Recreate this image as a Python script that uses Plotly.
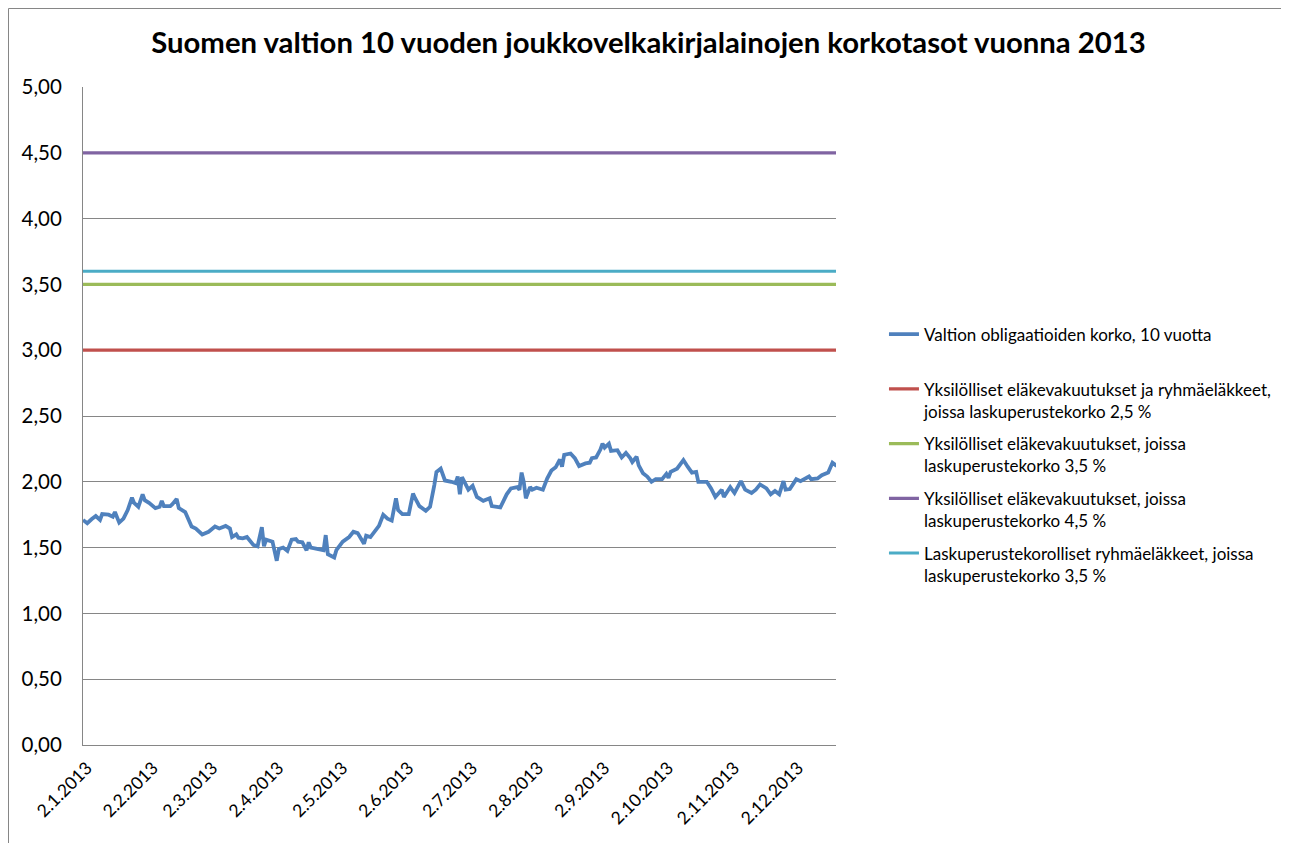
import plotly.graph_objects as go

# ---- data ----
dates = [
    "2013-01-02", "2013-01-04", "2013-01-06", "2013-01-08", "2013-01-10", "2013-01-11",
    "2013-01-14", "2013-01-16", "2013-01-17", "2013-01-19", "2013-01-21", "2013-01-23",
    "2013-01-25", "2013-01-26", "2013-01-28", "2013-01-30", "2013-01-31", "2013-02-02",
    "2013-02-05", "2013-02-07", "2013-02-08", "2013-02-09", "2013-02-12", "2013-02-13",
    "2013-02-15", "2013-02-16", "2013-02-19", "2013-02-22", "2013-02-24", "2013-02-27",
    "2013-03-02", "2013-03-05", "2013-03-07", "2013-03-10", "2013-03-12", "2013-03-13",
    "2013-03-15", "2013-03-16", "2013-03-18", "2013-03-20", "2013-03-23", "2013-03-25",
    "2013-03-27", "2013-03-28", "2013-03-29", "2013-04-01", "2013-04-03", "2013-04-04",
    "2013-04-06", "2013-04-08", "2013-04-10", "2013-04-12", "2013-04-13", "2013-04-15",
    "2013-04-17", "2013-04-18", "2013-04-19", "2013-04-22", "2013-04-25", "2013-04-26",
    "2013-04-27", "2013-04-30", "2013-05-01", "2013-05-04", "2013-05-07", "2013-05-09",
    "2013-05-11", "2013-05-14", "2013-05-15", "2013-05-17", "2013-05-20", "2013-05-21",
    "2013-05-23", "2013-05-25", "2013-05-27", "2013-05-29", "2013-05-30", "2013-06-01",
    "2013-06-04", "2013-06-06", "2013-06-07", "2013-06-09", "2013-06-12", "2013-06-14",
    "2013-06-16", "2013-06-17", "2013-06-19", "2013-06-21", "2013-06-24", "2013-06-26",
    "2013-06-27", "2013-06-28", "2013-06-29", "2013-06-30", "2013-07-02", "2013-07-04",
    "2013-07-06", "2013-07-09", "2013-07-12", "2013-07-13", "2013-07-17", "2013-07-20",
    "2013-07-22", "2013-07-25", "2013-07-26", "2013-07-27", "2013-07-28", "2013-07-29",
    "2013-07-31", "2013-08-01", "2013-08-03", "2013-08-06", "2013-08-08", "2013-08-10",
    "2013-08-12", "2013-08-14", "2013-08-15", "2013-08-16", "2013-08-19", "2013-08-21",
    "2013-08-23", "2013-08-26", "2013-08-28", "2013-08-29", "2013-08-31", "2013-09-02",
    "2013-09-03", "2013-09-04", "2013-09-06", "2013-09-07", "2013-09-10", "2013-09-12",
    "2013-09-14", "2013-09-16", "2013-09-17", "2013-09-19", "2013-09-20", "2013-09-22",
    "2013-09-24", "2013-09-26", "2013-09-28", "2013-10-01", "2013-10-03", "2013-10-04",
    "2013-10-05", "2013-10-08", "2013-10-10", "2013-10-11", "2013-10-13", "2013-10-15",
    "2013-10-17", "2013-10-18", "2013-10-22", "2013-10-24", "2013-10-26", "2013-10-29",
    "2013-10-30", "2013-11-02", "2013-11-04", "2013-11-07", "2013-11-09", "2013-11-12",
    "2013-11-14", "2013-11-16", "2013-11-19", "2013-11-21", "2013-11-23", "2013-11-25",
    "2013-11-27", "2013-11-28", "2013-11-30", "2013-12-03", "2013-12-05", "2013-12-09",
    "2013-12-10", "2013-12-13", "2013-12-15", "2013-12-18", "2013-12-20", "2013-12-22",
]
bond_yield = [
    1.71, 1.685, 1.715, 1.74, 1.71, 1.755,
    1.75, 1.735, 1.77, 1.69, 1.72, 1.785,
    1.88, 1.84, 1.81, 1.905, 1.86, 1.84,
    1.80, 1.81, 1.855, 1.815, 1.815, 1.83,
    1.87, 1.80, 1.77, 1.66, 1.645, 1.60,
    1.62, 1.66, 1.645, 1.665, 1.645, 1.58,
    1.60, 1.575, 1.57, 1.58, 1.52, 1.51,
    1.655, 1.51, 1.56, 1.545, 1.40, 1.49,
    1.50, 1.475, 1.56, 1.565, 1.545, 1.54,
    1.48, 1.54, 1.50, 1.49, 1.48, 1.595,
    1.45, 1.425, 1.48, 1.545, 1.58, 1.62,
    1.61, 1.53, 1.59, 1.58, 1.645, 1.665,
    1.75, 1.72, 1.705, 1.875, 1.785, 1.755,
    1.755, 1.91, 1.875, 1.815, 1.78, 1.81,
    1.975, 2.075, 2.10, 2.01, 2.00, 1.99,
    2.04, 1.905, 2.035, 2.00, 1.94, 1.97,
    1.885, 1.855, 1.875, 1.815, 1.805, 1.905,
    1.95, 1.96, 1.94, 2.07, 2.00, 1.875,
    1.96, 1.94, 1.955, 1.94, 2.025, 2.085,
    2.11, 2.17, 2.115, 2.205, 2.215, 2.18,
    2.12, 2.14, 2.145, 2.18, 2.185, 2.245,
    2.29, 2.26, 2.29, 2.235, 2.24, 2.185,
    2.22, 2.18, 2.15, 2.19, 2.125, 2.065,
    2.04, 2.00, 2.02, 2.02, 2.06, 2.03,
    2.075, 2.10, 2.15, 2.165, 2.115, 2.07,
    2.075, 2.00, 2.00, 1.95, 1.885, 1.94,
    1.885, 1.96, 1.915, 2.005, 1.94, 1.915,
    1.94, 1.98, 1.95, 1.905, 1.93, 1.905,
    2.005, 1.94, 1.945, 2.02, 2.005, 2.04,
    2.02, 2.025, 2.05, 2.07, 2.145, 2.12,
]

level_names = [
    "Yksilölliset eläkevakuutukset ja ryhmäeläkkeet,<br>joissa laskuperustekorko 2,5 %",
    "Yksilölliset eläkevakuutukset, joissa<br>laskuperustekorko 3,5 %",
    "Yksilölliset eläkevakuutukset, joissa<br>laskuperustekorko 4,5 %",
    "Laskuperustekorolliset ryhmäeläkkeet, joissa<br>laskuperustekorko 3,5 %",
]
level_values = [3.0, 3.5, 4.5, 3.6]
level_colors = ["#C0504D", "#9BBB59", "#8064A2", "#4BACC6"]

bond_name = "Valtion obligaatioiden korko, 10 vuotta<br> "
bond_color = "#4F81BD"

tick_dates = ["2013-%02d-02" % m for m in range(1, 13)]
tick_labels = ["2.%d.2013" % m for m in range(1, 13)]
y_ticks = [i * 0.5 for i in range(11)]

FONT = "Lato"
W, H = 1281, 835          # page body has an 8 px margin
ML, MR, MT, MB = 75, 453, 79, 98
PW, PH = W - ML - MR, H - MT - MB

fig = go.Figure()
fig.add_trace(go.Scatter(x=dates, y=bond_yield, mode="lines", name=bond_name,
                         legendgroup="g0",
                         line=dict(color=bond_color, width=3.8)))
for i, (nm, val, col) in enumerate(zip(level_names, level_values, level_colors)):
    fig.add_trace(go.Scatter(x=[dates[0], dates[-1]], y=[val, val], mode="lines",
                             name=nm, legendgroup="g%d" % (i + 1),
                             line=dict(color=col, width=3.2)))

fig.update_layout(
    width=W, height=H,
    paper_bgcolor="white", plot_bgcolor="white",
    separators=", ",
    margin=dict(l=ML, r=MR, t=MT, b=MB),
    font=dict(family=FONT, color="#000000"),
    title=dict(text="<b>Suomen valtion 10 vuoden joukkovelkakirjalainojen korkotasot vuonna 2013</b>",
               x=0.5, xref="container", xanchor="center",
               y=1 - 35 / H, yref="container", yanchor="middle",
               font=dict(family=FONT, size=29.3, color="#000000")),
    xaxis=dict(type="date", range=["2013-01-02", "2013-12-21 16:00"],
               tickvals=tick_dates, ticktext=tick_labels, tickangle=-45,
               tickfont=dict(family=FONT, size=17.5, color="#000000"),
               showgrid=False, zeroline=False, showline=True,
               linecolor="#868686", linewidth=1, ticks="",
               ticklabelstandoff=5, ticklabelshift=4),
    yaxis=dict(range=[0, 5], tickvals=y_ticks, tickformat=".2f",
               tickfont=dict(family=FONT, size=20.5, color="#000000"),
               showgrid=True, gridcolor="#868686", gridwidth=1,
               zeroline=False, showline=True, linecolor="#868686", linewidth=1,
               ticks="", ticklabelstandoff=16),
    legend=dict(x=1.0637, xanchor="left", y=0.651, yanchor="top",
                font=dict(family=FONT, size=17, color="#000000"),
                tracegroupgap=7.5, valign="top", bgcolor="rgba(0,0,0,0)"),
    shapes=[dict(type="rect", xref="paper", yref="paper",
                 x0=(0.5 - ML) / PW, x1=(1279 - ML) / PW,
                 y0=-0.2, y1=(PH + MT - 0.5) / PH,
                 line=dict(color="#868686", width=1), fillcolor="rgba(0,0,0,0)",
                 layer="below")],
)

fig.write_html("out.html")
